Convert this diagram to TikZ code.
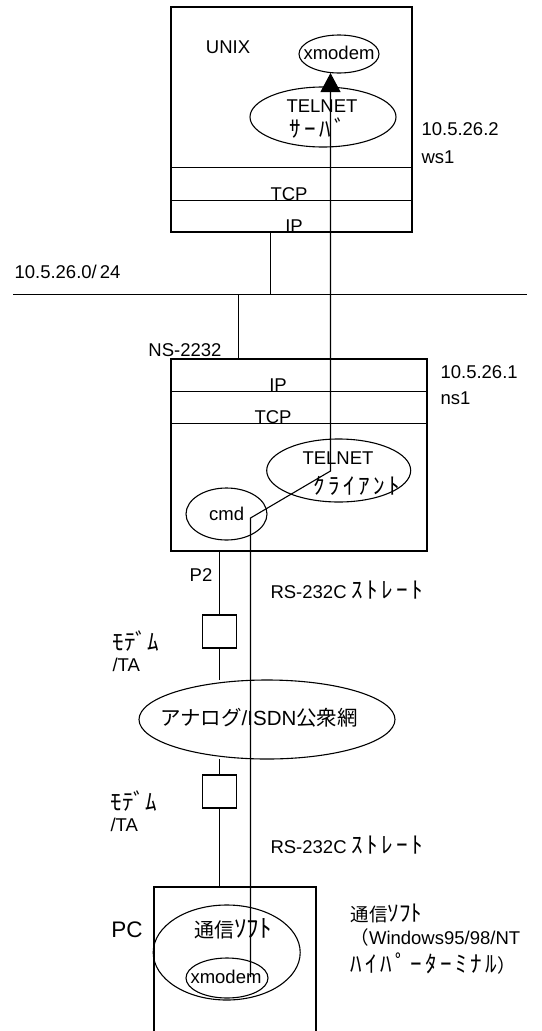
\documentclass[tikz,border=0pt]{standalone}
\usepackage{fontspec}
\setmainfont{Liberation Sans}
\newfontfamily\jp{Noto Sans CJK JP}
\newfontfamily\hk[LetterSpace=15,Scale=1.25]{Noto Sans CJK JP}
\newfontfamily\hkn[Scale=1.25]{Noto Sans CJK JP}
\usetikzlibrary{shapes.geometric,arrows.meta}
\begin{document}
\begin{tikzpicture}[x=1pt,y=-1pt,line width=1.1pt,
  every node/.style={inner sep=0pt,font=\fontsize{18.5}{20}\selectfont},
  ell/.style={draw,ellipse},
  boxn/.style={draw,rectangle},
  lbl/.style={anchor=west}]
\useasboundingbox (0,0) rectangle (541,1031);

% ---------- UNIX host ----------
\node[boxn,minimum width=241pt,minimum height=225pt] (ws) at (291.5,119.5) {};
\draw (171,167.5) -- (412,167.5);
\draw (171,200.5) -- (412,200.5);
\node (unix) at (228,47) {UNIX};
\node[ell,minimum width=80pt,minimum height=38pt] (xmws) at (339,54) {};
\node (xmwst) at (339,53) {xmodem};
\node[ell,minimum width=146pt,minimum height=60pt] (tsrv) at (323,117) {};
\node (tsrv1) at (322,106) {TELNET};
\node (tsrv2) at (318,128) {\hk ｻｰﾊﾞ};
\node[anchor=base] (wstcp) at (289,200) {TCP};
\node[anchor=base] (wsip) at (294,232) {IP};
\node[lbl] (wsaddr) at (421,129) {10.5.26.2};
\node[lbl] (wsname) at (421,157) {ws1};

% ---------- network ----------
\coordinate (netL) at (13,294.5);
\coordinate (netR) at (527,294.5);
\draw (netL) -- (netR);
\node[lbl] (netaddr) at (14,272) {10.5.26.0/\,24};
\coordinate (wsdown) at (270.5,232);
\coordinate (wsnet) at (270.5,294.5);
\draw (wsdown) -- (wsnet);
\coordinate (nsnet) at (238.5,294.5);
\coordinate (nsup) at (238.5,359);
\draw (nsnet) -- (nsup);

% ---------- NS-2232 ----------
\node[boxn,minimum width=256pt,minimum height=192pt] (ns) at (299,455) {};
\draw (171,391.5) -- (427,391.5);
\draw (171,423.5) -- (427,423.5);
\node[anchor=base east] (nsname) at (222,356) {NS-2232};
\node[anchor=base] (nsip) at (278,391) {IP};
\node[anchor=base] (nstcp) at (273,423) {TCP};
\node[lbl] (nsaddr) at (440,372) {10.5.26.1};
\node[lbl] (nshost) at (440,398) {ns1};
\node[ell,minimum width=144pt,minimum height=63pt] (tcli) at (338.7,470.5) {};
\node (tcli1) at (338,458) {TELNET};
\node (tcli2) at (357,486) {\hk ｸﾗｲｱﾝﾄ};
\node[ell,minimum width=81pt,minimum height=52pt] (cmd) at (226.5,514) {};
\node (cmdt) at (226.7,514) {cmd};

% ---------- serial / modem chain ----------
\coordinate (p2top) at (219.5,551);
\node[boxn,minimum width=34pt,minimum height=33pt] (mdm1) at (219.5,631.5) {};
\draw (p2top) -- (mdm1.north);
\node (p2) at (201,575) {P2};
\node[lbl] (mdm1a) at (112,641) {\hkn ﾓﾃﾞﾑ};
\node[lbl] (mdm1b) at (112,665) {/TA};
\node[lbl] (rs1) at (270,590) {RS-232C {\hk ｽﾄﾚｰﾄ}};
\node[ell,minimum width=256pt,minimum height=79pt] (pstn) at (267,719.5) {};
\node (pstnt) at (259,718) {\fontsize{20.5}{22}\selectfont{\jp アナログ}/ISDN{\jp 公衆網}};
\coordinate (pstntop) at (219.5,680);
\coordinate (pstnbot) at (219.5,759);
\draw (mdm1.south) -- (pstntop);
\node[boxn,minimum width=34pt,minimum height=33pt] (mdm2) at (219.5,791.5) {};
\draw (pstnbot) -- (mdm2.north);
\node[lbl] (mdm2a) at (110,801) {\hkn ﾓﾃﾞﾑ};
\node[lbl] (mdm2b) at (110,825) {/TA};
\node[lbl] (rs2) at (270,845) {RS-232C {\hk ｽﾄﾚｰﾄ}};

% ---------- PC ----------
\node[boxn,minimum width=162pt,minimum height=160pt] (pc) at (235,967) {};
\coordinate (pctop) at (219.5,887);
\draw (mdm2.south) -- (pctop);
\node (pcl) at (127,930) {\fontsize{22.5}{24}\selectfont PC};
\node[ell,minimum width=147pt,minimum height=95pt] (soft) at (226.7,952.5) {};
\node (softt) at (233,929) {\fontsize{20}{22}\selectfont{\jp 通信}{\hkn ｿﾌﾄ}};
\node[ell,minimum width=82pt,minimum height=40pt] (xmpc) at (227,978) {};
\node (xmpct) at (226,977) {xmodem};
\node[lbl] (r1) at (350,913) {{\jp 通信}{\hkn ｿﾌﾄ}};
\node[lbl] (r2) at (350,937) {{\jp （}Windows95/98/NT};
\node[lbl] (r3) at (350,964) {{\hk ﾊｲﾊﾟｰﾀｰﾐﾅﾙ}{\jp ）}};

% ---------- data path ----------
\coordinate (s0) at (250.5,977);
\coordinate (b1) at (250.5,518);
\coordinate (b2) at (330.5,471);
\coordinate (tip) at (330.5,73);
\draw[-{Triangle[length=19pt,width=20pt]}] (s0) -- (b1) -- (b2) -- (tip);
\end{tikzpicture}
\end{document}
